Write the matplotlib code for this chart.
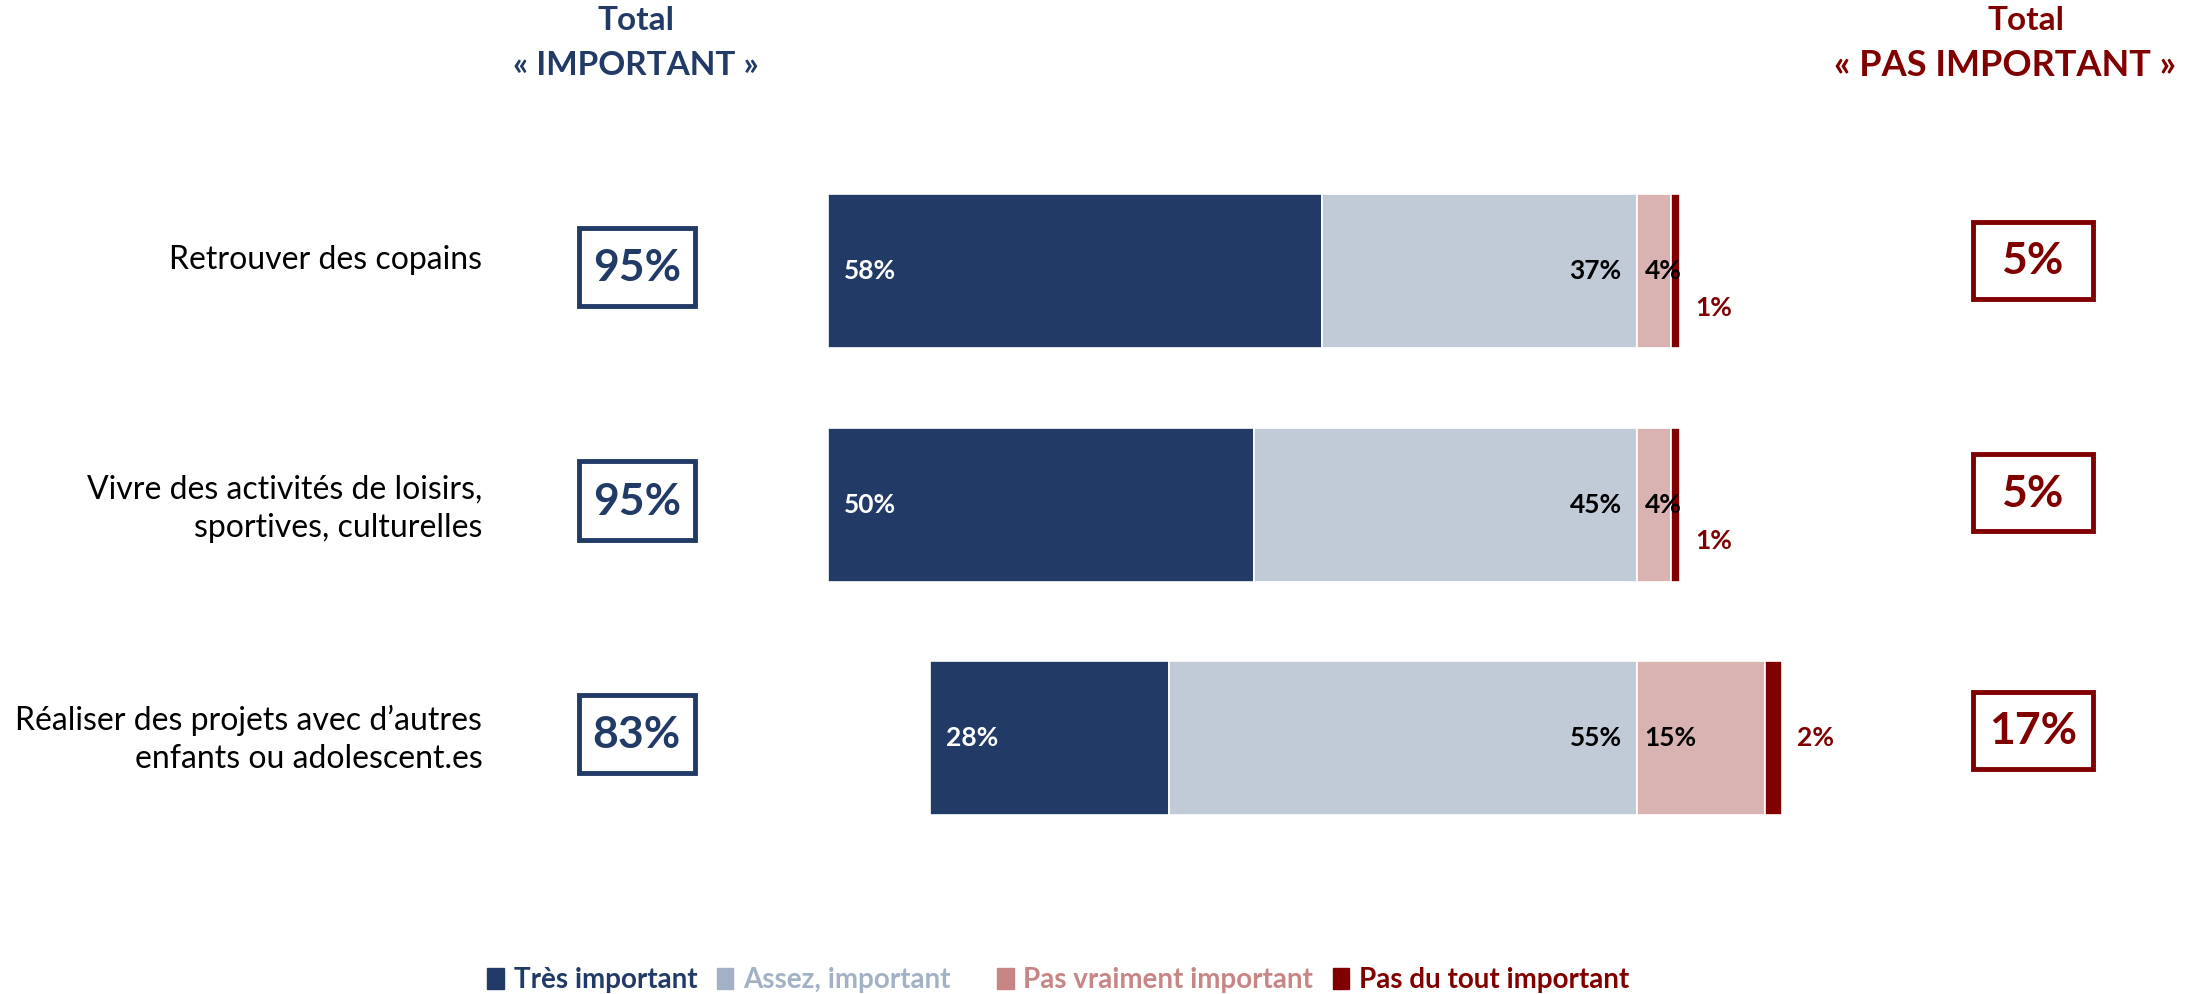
import matplotlib
matplotlib.use('Agg')
import matplotlib.pyplot as plt
from matplotlib.patches import Patch, Rectangle

plt.rcParams['font.family'] = ['Lato', 'DejaVu Sans']

# data
categories = ["Retrouver des copains",
              "Vivre des activités de loisirs,\nsportives, culturelles",
              "Réaliser des projets avec d’autres\nenfants ou adolescent.es"]
tres = [58, 50, 28]
assez = [37, 45, 55]
pas_vraiment = [4, 4, 15]
pas_du_tout = [1, 1, 2]
total_imp = [95, 95, 83]
total_pas = [5, 5, 17]
legend_labels = ["Très important", "Assez, important    ",
                 "Pas vraiment important", "Pas du tout important"]

NAVY = '#213A66'
LIGHT = '#C1CBD7'
PINK = '#D9B2B2'
RED = '#800000'
LEG_LIGHT = '#A3B1C6'
LEG_PINK = '#C78585'

W, H = 1568.0, 711.0   # layout measured on the reference, in its own units


def fx(x):
    return x / W


def fy(y):
    return 1 - y / H


fig = plt.figure(figsize=(21.92, 9.94), dpi=100)
ax = fig.add_axes([0, 0, 1, 1])
ax.set_xlim(-192.3, 65.2)
ax.set_ylim(3.096, -1.162)
ax.axis('off')

rows = range(len(categories))
h = 0.659
left_tres = [-(a + b) for a, b in zip(tres, assez)]
left_assez = [-a for a in assez]
left_pdt = list(pas_vraiment)

ax.barh(rows, tres, left=left_tres, height=h, color=NAVY, edgecolor='white', linewidth=1.2)
ax.barh(rows, assez, left=left_assez, height=h, color=LIGHT, edgecolor='white', linewidth=1.2)
ax.barh(rows, pas_vraiment, left=0, height=h, color=PINK, edgecolor='white', linewidth=1.2)
ax.barh(rows, pas_du_tout, left=left_pdt, height=h, color=RED, edgecolor='white', linewidth=1.2)

for i in rows:
    ax.text(left_tres[i] + 1.8, i, f"{tres[i]}%", color='white', fontsize=19,
            fontweight='bold', ha='left', va='center')
    ax.text(-1.8, i, f"{assez[i]}%", color='black', fontsize=19,
            fontweight='bold', ha='right', va='center')
    ax.text(0.9, i, f"{pas_vraiment[i]}%", color='black', fontsize=19,
            fontweight='bold', ha='left', va='center')
    end = pas_vraiment[i] + pas_du_tout[i]
    dy = 0.156 if pas_vraiment[i] < 10 else 0.0
    ax.text(end + 1.8, i + dy, f"{pas_du_tout[i]}%", color=RED, fontsize=19,
            fontweight='bold', ha='left', va='center')

# category labels
lab_y = [186, 364, 529]
for i, c in enumerate(categories):
    fig.text(fx(345), fy(lab_y[i]), c, ha='right', va='center', fontsize=23,
             linespacing=1.35, color='black')

# total boxes
box_l = [(414, 163), (414, 330), (414, 497)]
box_r = [(1411, 159), (1411, 325), (1411, 495)]
for i in rows:
    x0, y0 = box_l[i]
    fig.patches.append(Rectangle((fx(x0), fy(y0 + 56)), 83 / W, 56 / H,
                                 transform=fig.transFigure, fill=False,
                                 edgecolor=NAVY, linewidth=3.5))
    fig.text(fx(x0 + 41.5), fy(y0 + 29), f"{total_imp[i]}%", color=NAVY,
             fontsize=32, fontweight='bold', ha='center', va='center')
    x0, y0 = box_r[i]
    fig.patches.append(Rectangle((fx(x0), fy(y0 + 55)), 86 / W, 55 / H,
                                 transform=fig.transFigure, fill=False,
                                 edgecolor=RED, linewidth=3.5))
    fig.text(fx(x0 + 43), fy(y0 + 28), f"{total_pas[i]}%", color=RED,
             fontsize=32, fontweight='bold', ha='center', va='center')

# headers
fig.text(fx(455), fy(15), "Total", color=NAVY, fontsize=24, fontweight='bold',
         ha='center', va='center')
fig.text(fx(455), fy(47), "« IMPORTANT »", color=NAVY, fontsize=24,
         fontweight='bold', ha='center', va='center')
fig.text(fx(1449), fy(15), "Total", color=RED, fontsize=24, fontweight='bold',
         ha='center', va='center')
fig.text(fx(1434), fy(47), "« PAS IMPORTANT »", color=RED, fontsize=26,
         fontweight='bold', ha='center', va='center')

# legend
handles = [Patch(color=c) for c in [NAVY, LEG_LIGHT, LEG_PINK, RED]]
leg = fig.legend(handles, legend_labels, loc='center', bbox_to_anchor=(fx(757), fy(701)),
                 ncol=4, frameon=False, handlelength=0.6, handleheight=0.8,
                 handletextpad=0.35, columnspacing=0.7,
                 prop={'size': 20, 'weight': 'bold'})
for t, c in zip(leg.get_texts(), [NAVY, LEG_LIGHT, LEG_PINK, RED]):
    t.set_color(c)

fig.savefig('out.png', dpi=100)
